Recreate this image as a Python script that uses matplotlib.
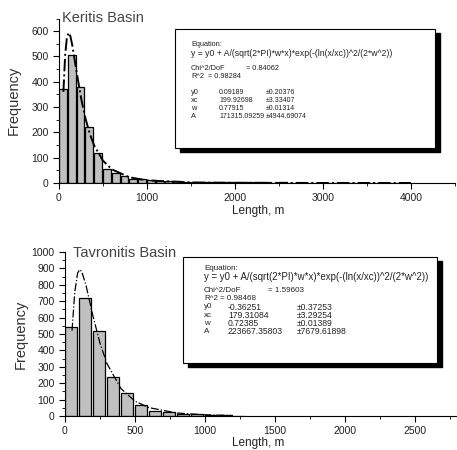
import numpy as np
import matplotlib
matplotlib.use('Agg')
import matplotlib.pyplot as plt
from matplotlib.patches import Rectangle
from matplotlib.ticker import MultipleLocator

plt.rcParams['font.family'] = ['Liberation Sans', 'DejaVu Sans']

# Keritis basin: 100 m bins
k_left = np.arange(0, 4000, 100)
k_freq = [372, 506, 381, 223, 119, 54, 38, 28, 17, 15, 10, 8, 6, 6, 5, 4, 4, 3, 3, 2,
          3, 2, 2, 2, 1, 2, 1, 1, 1, 1, 1, 1, 1, 1, 1, 1, 1, 1, 1, 1]
# fitted lognormal curve
k_fit_x = [50, 70, 90, 110, 130, 150, 200, 250, 300, 350, 400, 500, 600, 800,
           1000, 1500, 2000, 3000, 4000]
k_fit_y = [360, 505, 576, 594, 579, 546, 439, 337, 256, 194, 148, 88, 54, 22.5,
           10.4, 2.1, 0.6, 0.1, 0.0]
k_text = [("y0", "0.09189", "\u00b10.20376"),
          ("xc", "199.92698", "\u00b13.33407"),
          ("w", "0.77915", "\u00b10.01314"),
          ("A", "171315.09259", "\u00b14944.69074")]
k_chi, k_r2 = "0.84062", "0.98284"

# Tavronitis basin: 100 m bins
t_left = np.arange(0, 1300, 100)
t_freq = [541, 720, 519, 238, 139, 70, 30, 27, 14, 10, 4, 5, 2]
t_fit_x = [50, 70, 90, 105, 120, 150, 200, 250, 300, 400, 500, 600, 800, 1000, 1200]
t_fit_y = [520, 757, 871, 893, 880, 797, 609, 444, 319, 167, 90, 51, 18, 7.4, 3.3]
t_text = [("y0", "-0.36251", "\u00b10.37253"),
          ("xc", "179.31084", "\u00b13.29254"),
          ("w", "0.72385", "\u00b10.01389"),
          ("A", "223667.35803", "\u00b17679.61898")]
t_chi, t_r2 = "1.59603", "0.98468"

equation = "y = y0 + A/(sqrt(2*PI)*w*x)*exp(-(ln(x/xc))^2/(2*w^2))"

W, H = 457, 450
fig = plt.figure(figsize=(W / 100, H / 100), dpi=100)


def fx(px):
    return px / W


def fy(py):
    return 1 - py / H


def panel(rect, left, freq, fit_x, fit_y, xlim, ylim, xmaj, xmin, title, tpos, lw):
    ax = fig.add_axes(rect)
    ax.bar(left, freq, width=88, align='edge', color='#c0c0c0',
           edgecolor='black', linewidth=0.9)
    ax.plot(fit_x, fit_y, color='black', linestyle='-.', linewidth=lw)
    ax.set_xlim(*xlim)
    ax.set_ylim(*ylim)
    ax.xaxis.set_major_locator(MultipleLocator(xmaj))
    ax.xaxis.set_minor_locator(MultipleLocator(xmin))
    ax.yaxis.set_major_locator(MultipleLocator(100))
    ax.yaxis.set_minor_locator(MultipleLocator(50))
    for s in ['top', 'right']:
        ax.spines[s].set_visible(False)
    ax.tick_params(which='both', direction='out', labelsize=7.5, colors='black',
                   labelcolor='#222222')
    ax.tick_params(which='major', length=4)
    ax.tick_params(which='minor', length=2.5)
    ax.set_ylabel('Frequency', fontsize=10.5, color='#333333')
    ax.yaxis.set_label_coords(fx(tpos[2]), 0.5 * (rect[1] * 2 + rect[3]),
                              transform=fig.transFigure)
    ax.yaxis.label.set_va('center')
    ax.set_xlabel('Length, m', fontsize=8.5, color='#222222')
    ax.xaxis.set_label_coords(*tpos[1], transform=fig.transFigure)
    ax.xaxis.label.set_va('center')
    fig.text(fx(tpos[0][0]), fy(tpos[0][1]), title, fontsize=10.5, color='#444444',
             va='center', ha='left')
    return ax


def fitbox(x0, y0, x1, y1, lines_y, cols, chi, r2, fs, efs):
    fig.patches.append(Rectangle((fx(x0 + 5), fy(y1 + 4)), fx(x1 - x0), fy(y0) - fy(y1),
                                 transform=fig.transFigure, facecolor='black',
                                 edgecolor='black', zorder=5))
    fig.patches.append(Rectangle((fx(x0), fy(y1)), fx(x1 - x0), fy(y0) - fy(y1),
                                 transform=fig.transFigure, facecolor='white',
                                 edgecolor='black', linewidth=0.8, zorder=6))
    c0, ceq, cr = cols
    kw = dict(fontsize=fs, va='center', ha='left', color='#222222', zorder=7)
    fig.text(fx(c0), fy(lines_y[0]), "Equation:", **kw)
    fig.text(fx(c0), fy(lines_y[1]), equation, **dict(kw, fontsize=efs))
    fig.text(fx(c0), fy(lines_y[2]), "Chi^2/DoF", **kw)
    fig.text(fx(ceq), fy(lines_y[2]), "= " + chi, **kw)
    fig.text(fx(c0), fy(lines_y[3]), "R^2", **kw)
    fig.text(fx(cr), fy(lines_y[3]), "= " + r2, **kw)
    return kw


# top panel
panel([fx(59), fy(183), fx(455 - 59), fy(18.5) - fy(183)], k_left, k_freq,
      k_fit_x, k_fit_y, (0, 4500), (0, 650), 1000, 500, 'Keritis Basin',
      ((62, 18), (fx(258), fy(211)), 14), 1.4)
kw = fitbox(175, 29, 435, 148, [44, 53, 68, 76], (191, 246, 208),
            k_chi, k_r2, 5.3, 6.2)
for i, (n, v, e) in enumerate(k_text):
    yy = 92 + i * 8.3
    fig.text(fx(191), fy(yy), n, **kw)
    fig.text(fx(219), fy(yy), v, **dict(kw, fontsize=5.0))
    fig.text(fx(266), fy(yy), e, **dict(kw, fontsize=5.0))

# bottom panel
panel([fx(65), fy(416), fx(457 - 65), fy(252) - fy(416)], t_left, t_freq,
      t_fit_x, t_fit_y, (0, 2800), (0, 1000), 500, 250, 'Tavronitis Basin',
      ((73, 253), (fx(258), fy(443)), 21), 0.9)
kw = fitbox(183, 257, 437, 363, [269, 277, 291, 299], (204, 268, 220),
            t_chi, t_r2, 5.8, 6.9)
for i, (n, v, e) in enumerate(t_text):
    yy = 307 + i * 8.1
    fig.text(fx(204), fy(yy), n, **kw)
    fig.text(fx(228), fy(yy), v, **dict(kw, fontsize=6.2))
    fig.text(fx(297), fy(yy), e, **dict(kw, fontsize=6.2))

fig.savefig('out.png', dpi=100)
